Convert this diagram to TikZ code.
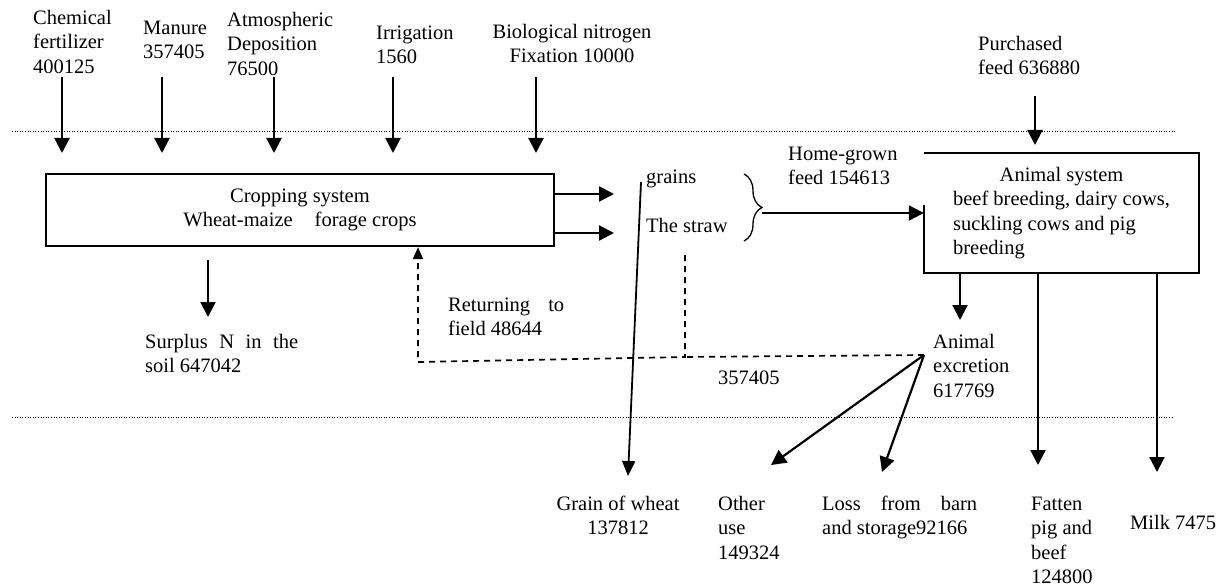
\documentclass[tikz,border=0pt]{standalone}
\usepackage{fontspec}
\setmainfont{Liberation Serif}
\usetikzlibrary{arrows.meta,decorations.pathreplacing}
\begin{document}
\begin{tikzpicture}[x=1pt,y=-1pt,
 txt/.style={inner sep=0pt, font=\fontsize{20.5}{24.5}\selectfont, align=left, anchor=north west},
 ctxt/.style={txt, align=center, anchor=north},
 arr/.style={line width=2.2pt, -{Triangle[length=15pt,width=15pt]}},
 thinarr/.style={line width=1.8pt, -{Triangle[length=15pt,width=13pt]}},
 dline/.style={line width=1.7pt, dash pattern=on 6pt off 5pt},
 dotline/.style={line width=0.9pt, dash pattern=on 1pt off 1.6pt},
 boxline/.style={line width=2.2pt}]
\useasboundingbox (0,0) rectangle (1223,588);

% text labels
\node[txt] (cf) at (33,7) {\strut Chemical\\fertilizer\\400125};
\node[txt] (mn) at (143,17) {\strut Manure\\357405};
\node[txt] (ad) at (227,9) {\strut Atmospheric\\Deposition\\76500};
\node[txt] (ir) at (376,22) {\strut Irrigation\\1560};
\node[ctxt] (bn) at (572,21) {\strut Biological nitrogen\\Fixation 10000};
\node[txt] (pf) at (978,33) {\strut Purchased\\feed 636880};
\node[txt] (hg) at (788,143) {\strut Home-grown\\feed 154613};
\node[txt] (gr) at (646,166) {\strut grains};
\node[txt] (st) at (646,215) {\strut The straw};
\node[txt] (sp) at (145,331) {\strut\makebox[153pt][s]{Surplus N in the}\\soil 647042};
\node[txt] (rf) at (448,294) {\strut\makebox[116pt][s]{Returning to}\\field 48644};
\node[txt] (num) at (718,367) {\strut 357405};
\node[txt] (ex) at (933,331) {\strut Animal\\excretion\\617769};
\node[ctxt] (gw) at (618,493) {\strut Grain of wheat\\137812};
\node[txt] (ou) at (718,493) {\strut Other\\use\\149324};
\node[txt] (lb) at (822,493) {\strut\makebox[155pt][s]{Loss from barn}\\and storage92166};
\node[txt] (fp) at (1031,493) {\strut Fatten\\pig and\\beef\\124800};
\node[txt] (mk) at (1130,512) {\strut Milk 7475};

% boxes
\node[boxline, draw, minimum width=508pt, minimum height=72pt, inner sep=0pt,
      font=\fontsize{20.5}{24.5}\selectfont, align=center] (crop) at (300,210)
      {Cropping system\\Wheat-maize\hspace{22pt}forage crops};
\node[minimum width=275pt, minimum height=120pt, inner sep=0pt,
      font=\fontsize{20.5}{24.5}\selectfont] (an) at (1061.5,213)
      {\begin{tabular}{@{}l@{}}\multicolumn{1}{@{}c@{}}{Animal system}\\beef breeding, dairy cows,\\suckling cows and pig\\breeding\end{tabular}\hspace{12pt}};
\draw[boxline] ([yshift=8pt]an.west) -- (an.south west) -- (an.south east) -- (an.north east) -- (an.north west);

% dotted separators
\coordinate (d1a) at (12,131); \coordinate (d1b) at (1176,131);
\coordinate (d2a) at (12,417); \coordinate (d2b) at (1173,417);
\draw[dotline] (d1a) -- (d1b);
\draw[dotline] (d2a) -- (d2b);

% input arrows
\coordinate (cfa) at (62,77);  \coordinate (cfb) at (62,153);
\coordinate (mna) at (162,77); \coordinate (mnb) at (162,153);
\coordinate (ada) at (274,77); \coordinate (adb) at (274,153);
\coordinate (ira) at (393,77); \coordinate (irb) at (393,153);
\coordinate (bna) at (536,77); \coordinate (bnb) at (536,153);
\coordinate (pfa) at (1035,96); \coordinate (pfb) at (1035,145);
\draw[arr] (cfa) -- (cfb);
\draw[arr] (mna) -- (mnb);
\draw[arr] (ada) -- (adb);
\draw[arr] (ira) -- (irb);
\draw[arr] (bna) -- (bnb);
\draw[arr] (pfa) -- (pfb);

% surplus
\coordinate (spa) at (208,260); \coordinate (spb) at (208,317);
\draw[arr] (spa) -- (spb);

% crop outputs
\coordinate (g1) at (614,194); \coordinate (g2) at (614,233);
\draw[arr] (crop.east |- g1) -- (g1);
\draw[arr] (crop.east |- g2) -- (g2);

% brace and home-grown feed
\draw[line width=1.3pt, decorate, decoration={brace, amplitude=18pt}] (744,174) -- (744,241);
\coordinate (bt) at (762,213);
\draw[arr] (bt) -- (an.west);

% grain of wheat line
\coordinate (gl0) at (641,182); \coordinate (gl1) at (628,476);
\draw[thinarr] (gl0) -- (gl1);

% dashed returning
\coordinate (s0) at (685,255); \coordinate (s1) at (685,357); \coordinate (r1) at (418,362);
\coordinate (e0) at (924,355);
\draw[dline, -{Triangle[length=12pt,width=10pt]}] (s0) -- (s1) -- (r1) -- (r1 |- crop.south);
\draw[dline] (e0) -- (s1);

% animal outputs
\coordinate (ex1) at (960,320); \coordinate (fp1) at (1038,465); \coordinate (mk1) at (1157,472);
\draw[arr] (an.south -| ex1) -- (ex1);
\draw[arr] (an.south -| fp1) -- (fp1);
\draw[arr] (an.south -| mk1) -- (mk1);

% excretion fan
\coordinate (ou1) at (771,465); \coordinate (lb1) at (882,472);
\draw[arr] (e0) -- (ou1);
\draw[arr] (e0) -- (lb1);
\end{tikzpicture}
\end{document}
